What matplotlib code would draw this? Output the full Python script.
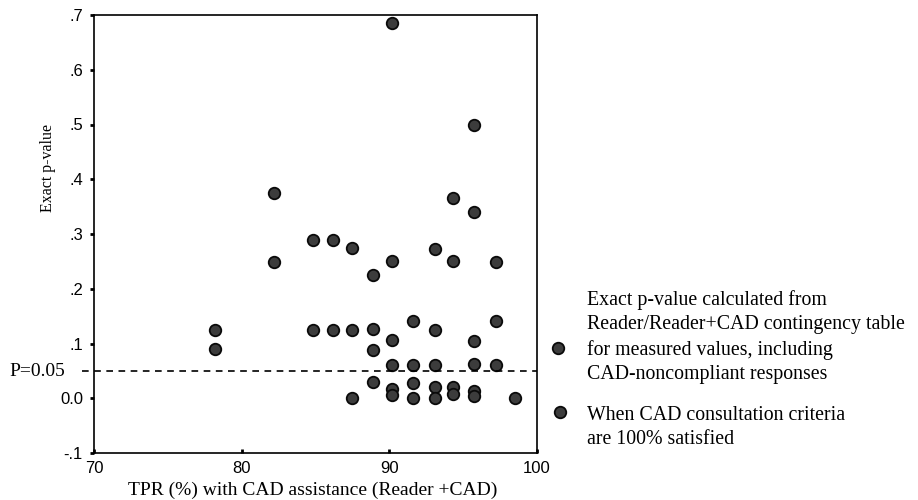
import matplotlib
matplotlib.use("Agg")
import matplotlib.pyplot as plt
from matplotlib.lines import Line2D

# TPR (%) with CAD assistance, one entry per reader/condition
tpr = [78.2, 78.2,
       82.2, 82.2,
       84.8, 84.8,
       86.2, 86.2,
       87.5, 87.5, 87.5,
       88.9, 88.9, 88.9, 88.9,
       90.2, 90.2, 90.2, 90.2, 90.2, 90.2,
       91.6, 91.6, 91.6, 91.6,
       93.1, 93.1, 93.1, 93.1, 93.1,
       94.3, 94.3, 94.3, 94.3,
       95.7, 95.7, 95.7, 95.7, 95.7, 95.7,
       97.2, 97.2, 97.2,
       98.5]
# exact p-values
pval = [0.125, 0.090,
        0.375, 0.249,
        0.289, 0.125,
        0.289, 0.125,
        0.275, 0.125, 0.000,
        0.226, 0.126, 0.088, 0.030,
        0.685, 0.250, 0.107, 0.060, 0.017, 0.006,
        0.142, 0.060, 0.028, 0.000,
        0.273, 0.124, 0.060, 0.020, 0.000,
        0.365, 0.250, 0.020, 0.007,
        0.500, 0.340, 0.105, 0.062, 0.013, 0.004,
        0.249, 0.142, 0.060,
        0.000]

p_threshold = 0.05
yticks = [-0.1, 0.0, 0.1, 0.2, 0.3, 0.4, 0.5, 0.6, 0.7]
ytick_labels = ['-.1', '0.0', '.1', '.2', '.3', '.4', '.5', '.6', '.7']
xticks = [70, 80, 90, 100]
legend_texts = ["Exact p-value calculated from\nReader/Reader+CAD contingency table\n"
                "for measured values, including\nCAD-noncompliant responses",
                "When CAD consultation criteria\nare 100% satisfied"]

serif = 'Liberation Serif'
sans = 'Liberation Sans'

fig = plt.figure(figsize=(9.18, 5.0), dpi=100)
ax = fig.add_axes([0.1024, 0.094, 0.4826, 0.876])

mk = dict(marker='o', markersize=8.3, markerfacecolor='#3c3c3c',
          markeredgecolor='#0a0a0a', markeredgewidth=1.3, linestyle='none')
ax.plot(tpr, pval, **mk)

ax.axhline(p_threshold, xmin=-0.027, xmax=1.0, color='black', lw=1.2,
           dashes=(4, 3.3), clip_on=False)

ax.set_xlim(70, 100)
ax.set_ylim(-0.1, 0.7)
ax.set_xticks(xticks)
ax.set_xticklabels([str(v) for v in xticks], family=sans, fontsize=12)
ax.set_yticks(yticks)
ax.set_yticklabels(ytick_labels, family=sans, fontsize=12)
ax.tick_params(axis='y', direction='out', length=3, width=2, pad=5)
ax.tick_params(axis='x', direction='in', length=3, width=2, pad=6)
for s in ax.spines.values():
    s.set_linewidth(1.2)

ax.set_xlabel('TPR (%) with CAD assistance (Reader +CAD)', family=serif, fontsize=14)
ax.xaxis.set_label_coords(0.494, -0.0845)
ax.xaxis.label.set_va('center')
ax.set_ylabel('Exact p-value', family=serif, fontsize=11.5)
ax.yaxis.set_label_coords(-0.104, 0.651)
ax.yaxis.label.set_va('center')

fig.text(65 / 918, 1 - 371.5 / 500, 'P=0.05', family=serif, fontsize=14,
         ha='right', va='center')

# legend keys and texts
fig.add_artist(Line2D([558 / 918], [1 - 348 / 500], **mk))
fig.add_artist(Line2D([560 / 918], [1 - 412 / 500], **mk))
fig.text(587 / 918, 1 - 337 / 500, legend_texts[0], family=serif, fontsize=14.3,
         ha='left', va='center', linespacing=1.38)
fig.text(587 / 918, 1 - 427.5 / 500, legend_texts[1], family=serif, fontsize=14.3,
         ha='left', va='center', linespacing=1.38)

fig.savefig('out.png', dpi=100)
